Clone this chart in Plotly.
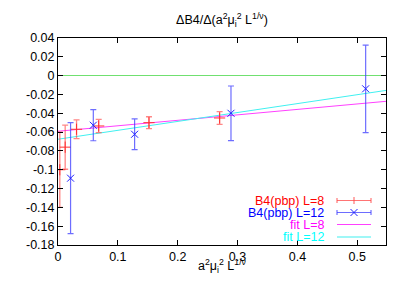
import plotly.graph_objects as go

# ---- data ----
x_L8 = [0.003, 0.012, 0.031, 0.068, 0.152, 0.270]
y_L8 = [-0.100, -0.076, -0.057, -0.0535, -0.050, -0.045]
e_L8 = [0.040, 0.0235, 0.010, 0.007, 0.0063, 0.0068]

x_L12 = [0.021, 0.059, 0.128, 0.289, 0.514]
y_L12 = [-0.109, -0.0527, -0.0623, -0.040, -0.014]
e_L12 = [0.059, 0.0165, 0.0163, 0.029, 0.0465]

fit_x = [0.0, 0.548]
fit_L8 = [-0.0591, -0.0273]
fit_L12 = [-0.0676, -0.0157]

y_ticks = [0.04, 0.02, 0, -0.02, -0.04, -0.06, -0.08, -0.1, -0.12, -0.14, -0.16, -0.18]
y_tick_text = ["0.04", "0.02", "0", "-0.02", "-0.04", "-0.06", "-0.08", "-0.1",
               "-0.12", "-0.14", "-0.16", "-0.18"]
x_ticks = [0, 0.1, 0.2, 0.3, 0.4, 0.5]
x_tick_text = ["0", "0.1", "0.2", "0.3", "0.4", "0.5"]

legend_names = ["B4(pbp) L=8", "B4(pbp) L=12", "fit L=8", "fit L=12"]
legend_colors = ["#ff0000", "#0000ff", "#ff00ff", "#00ffff"]

FONT = "Liberation Sans, Arial, sans-serif"
FS = 12.5

fig = go.Figure()

fig.add_trace(go.Scatter(
    x=fit_x, y=fit_L8, mode="lines",
    line=dict(color="#ff40ff", width=1), showlegend=False))
fig.add_trace(go.Scatter(
    x=fit_x, y=fit_L12, mode="lines",
    line=dict(color="#40f0f0", width=1), showlegend=False))

fig.add_trace(go.Scatter(
    x=x_L8, y=y_L8, mode="markers",
    marker=dict(symbol="cross-thin", size=8, line=dict(color="#ff3030", width=1)),
    error_y=dict(type="data", array=e_L8, visible=True,
                 color="rgba(255,70,70,0.65)", thickness=1.3, width=3),
    showlegend=False))
fig.add_trace(go.Scatter(
    x=x_L12, y=y_L12, mode="markers",
    marker=dict(symbol="x-thin", size=7, line=dict(color="#2020ff", width=1)),
    error_y=dict(type="data", array=e_L12, visible=True,
                 color="rgba(60,60,255,0.75)", thickness=1.2, width=3),
    showlegend=False))

# ---- legend drawn gnuplot-style (text left, sample right) ----
L, R, T, B = 58, 21, 38, 40
W, H = 407, 285
pw, ph = W - L - R, H - T - B


def px(xp):
    return (xp - L) / pw


def py(yp):
    return (H - B - yp) / ph


rows_y = [200.5, 212.5, 224.5, 237]
text_x = px(326)
s0, s1 = px(337), px(371)
sm = (s0 + s1) / 2
shapes = []
annotations = []
for i, (name, col) in enumerate(zip(legend_names, legend_colors)):
    yy = py(rows_y[i])
    annotations.append(dict(
        x=text_x, y=yy, xref="paper", yref="paper", xanchor="right", yanchor="middle",
        text=name, showarrow=False, font=dict(color=col, size=FS, family=FONT)))
    lc = ["rgba(255,70,70,0.75)", "rgba(60,60,255,0.75)", "#ff40ff", "#40f0f0"][i]
    shapes.append(dict(type="line", xref="paper", yref="paper",
                       x0=s0, x1=s1, y0=yy, y1=yy, line=dict(color=lc, width=1.2)))
    if i < 2:
        cap = 2.5 / ph
        for sx in (s0, s1):
            shapes.append(dict(type="line", xref="paper", yref="paper",
                               x0=sx, x1=sx, y0=yy - cap, y1=yy + cap,
                               line=dict(color=lc, width=1.2)))
        m = 3.5
        if i == 0:
            shapes.append(dict(type="line", xref="paper", yref="paper",
                               x0=sm, x1=sm, y0=yy - m / ph, y1=yy + m / ph,
                               line=dict(color=lc, width=1.2)))
        else:
            shapes.append(dict(type="line", xref="paper", yref="paper",
                               x0=sm - m / pw, x1=sm + m / pw, y0=yy - m / ph, y1=yy + m / ph,
                               line=dict(color="#2020ff", width=1)))
            shapes.append(dict(type="line", xref="paper", yref="paper",
                               x0=sm - m / pw, x1=sm + m / pw, y0=yy + m / ph, y1=yy - m / ph,
                               line=dict(color="#2020ff", width=1)))

# x-axis label
annotations.append(dict(
    x=0.5, y=py(266), xref="paper", yref="paper", xanchor="center", yanchor="middle",
    text="a<sup>2</sup>μ<sub>i</sub><sup>2</sup> L<sup>1/ν</sup>", showarrow=False,
    font=dict(color="black", size=FS, family=FONT)))

axis_common = dict(showline=True, linecolor="black", linewidth=1, mirror="ticks",
                   ticks="inside", ticklen=5, tickcolor="black", tickwidth=1,
                   showgrid=False, tickfont=dict(size=FS, family=FONT, color="black"))

fig.update_layout(
    width=W, height=H,
    margin=dict(l=L, r=R, t=T, b=B),
    paper_bgcolor="white", plot_bgcolor="white",
    title=dict(text="ΔB4/Δ(a<sup>2</sup>μ<sub>i</sub><sup>2</sup> L<sup>1/ν</sup>)",
               x=(L + pw / 2) / W, xanchor="center", y=1 - 20 / H, yanchor="middle",
               font=dict(size=FS, family=FONT, color="black")),
    xaxis=dict(range=[0, 0.548], tickvals=x_ticks, ticktext=x_tick_text,
               zeroline=False, **axis_common),
    yaxis=dict(range=[-0.18, 0.04], tickvals=y_ticks, ticktext=y_tick_text,
               zeroline=True, zerolinecolor="#70e070", zerolinewidth=1.2, **axis_common),
    shapes=shapes, annotations=annotations, showlegend=False,
)

fig.write_html("out.html", config={"displayModeBar": False},
               post_script="document.body.style.margin='0';")
